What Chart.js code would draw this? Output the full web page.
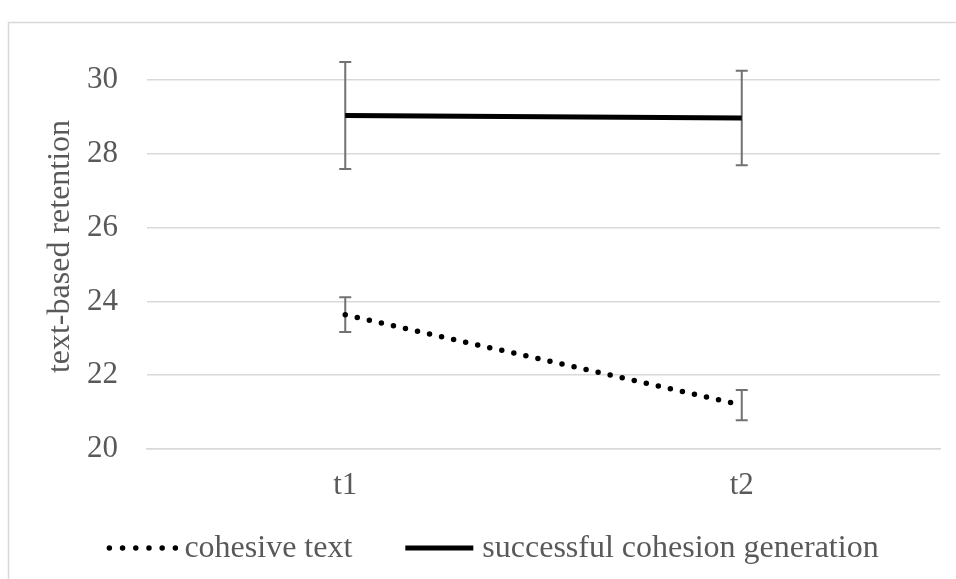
<!DOCTYPE html>
<html><head><meta charset="utf-8">
<script src="https://cdn.jsdelivr.net/npm/chart.js@4.4.0/dist/chart.umd.min.js"></script>
<style>html,body{margin:0;padding:0;background:#fff}#wrap{width:956px;height:579px;position:relative}</style>
</head><body><div id="wrap"><canvas id="c" width="956" height="579"></canvas></div>
<script>
const categories = ['t1', 't2'];
const seriesNames = ['cohesive text', 'successful cohesion generation'];
const cohesiveText = [23.64, 21.19];
const cohesiveTextErr = [0.47, 0.41];
const successfulGeneration = [29.04, 28.97];
const successfulGenerationErr = [1.45, 1.28];
const yTicks = [20, 22, 24, 26, 28, 30];
const yTitle = 'text-based retention';

const FONT = "'Liberation Serif', 'Times New Roman', serif";
const TXT = '#595959';
const GRID = '#d9d9d9';
const errorArrays = [cohesiveTextErr, successfulGenerationErr];

const borderPlugin = {
  id: 'frame',
  beforeDraw(chart) {
    const ctx = chart.ctx;
    ctx.save();
    ctx.strokeStyle = GRID; ctx.lineWidth = 1.5;
    ctx.beginPath();
    ctx.moveTo(8.5, 579); ctx.lineTo(8.5, 22.5); ctx.lineTo(956, 22.5);
    ctx.stroke();
    ctx.restore();
  }
};

const errorBarPlugin = {
  id: 'errorBars',
  beforeDatasetsDraw(chart) {
    const ctx = chart.ctx, x = chart.scales.x, y = chart.scales.y;
    ctx.save();
    ctx.strokeStyle = '#727272'; ctx.lineWidth = 2;
    chart.data.datasets.forEach((ds, di) => {
      const errs = errorArrays[di];
      ds.data.forEach((v, i) => {
        const px = x.getPixelForValue(i);
        const t = y.getPixelForValue(v + errs[i]);
        const b = y.getPixelForValue(v - errs[i]);
        ctx.beginPath();
        ctx.moveTo(px, t); ctx.lineTo(px, b);
        ctx.moveTo(px - 6, t); ctx.lineTo(px + 6, t);
        ctx.moveTo(px - 6, b); ctx.lineTo(px + 6, b);
        ctx.stroke();
      });
    });
    ctx.restore();
  }
};

const titlePlugin = {
  id: 'yTitle',
  afterDraw(chart) {
    const ctx = chart.ctx, ca = chart.chartArea;
    ctx.save();
    ctx.translate(61, (ca.top + ca.bottom) / 2 - 18);
    ctx.rotate(-Math.PI / 2);
    ctx.font = '32px ' + FONT;
    ctx.fillStyle = TXT;
    ctx.textAlign = 'center'; ctx.textBaseline = 'middle';
    ctx.fillText(yTitle, 0, 0);
    ctx.restore();
  }
};

const legendPlugin = {
  id: 'customLegend',
  afterDraw(chart) {
    const ctx = chart.ctx;
    ctx.save();
    ctx.font = '32px ' + FONT;
    ctx.textBaseline = 'middle';
    ctx.fillStyle = TXT;
    const sample = 68, gap = 9, itemGap = 53, cy = 548;
    const items = chart.data.datasets.map(ds => ({ ds, w: ctx.measureText(ds.label).width }));
    let total = 0;
    items.forEach((it, i) => { total += sample + gap + it.w + (i ? itemGap : 0); });
    let x = 493 - total / 2;
    items.forEach((it, i) => {
      if (i) x += itemGap;
      const ds = it.ds;
      const dotted = ds.borderDash && ds.borderDash.length;
      ctx.save();
      ctx.strokeStyle = ds.borderColor;
      ctx.lineWidth = ds.borderWidth;
      ctx.lineCap = ds.borderCapStyle;
      ctx.setLineDash(dotted ? [0, 13.2] : []);
      ctx.beginPath();
      ctx.moveTo(x + (dotted ? 2 : 0), cy);
      ctx.lineTo(x + sample, cy);
      ctx.stroke();
      ctx.restore();
      x += sample + gap;
      ctx.fillText(ds.label, x, cy + 1);
      x += it.w;
    });
    ctx.restore();
  }
};

new Chart(document.getElementById('c'), {
  type: 'line',
  data: {
    labels: categories,
    datasets: [
      {
        label: seriesNames[0], data: cohesiveText,
        borderColor: '#000000', borderWidth: 5.5, borderDash: [0, 12.35], borderCapStyle: 'round',
        pointRadius: 0, fill: false, tension: 0
      },
      {
        label: seriesNames[1], data: successfulGeneration,
        borderColor: '#000000', borderWidth: 5, borderDash: [], borderCapStyle: 'butt',
        pointRadius: 0, fill: false, tension: 0
      }
    ]
  },
  options: {
    responsive: false, animation: false, devicePixelRatio: 1,
    layout: { padding: { top: 80, right: 16, bottom: 80, left: 0 } },
    plugins: { legend: { display: false }, tooltip: { enabled: false }, title: { display: false } },
    scales: {
      x: {
        offset: true,
        grid: { display: false, drawTicks: false },
        border: { display: true, color: GRID, width: 1.5 },
        ticks: { color: TXT, font: { family: FONT, size: 31 }, padding: 18 },
        afterFit(s) { s.height = 50; }
      },
      y: {
        min: yTicks[0], max: yTicks[yTicks.length - 1],
        afterBuildTicks(s) { s.ticks = yTicks.map(v => ({ value: v })); },
        grid: { color: GRID, lineWidth: 1.5, drawTicks: false },
        border: { display: false },
        ticks: { color: TXT, font: { family: FONT, size: 31 }, padding: 29 },
        afterFit(s) { s.width = 147; }
      }
    }
  },
  plugins: [borderPlugin, errorBarPlugin, titlePlugin, legendPlugin]
});
</script>
</body></html>
